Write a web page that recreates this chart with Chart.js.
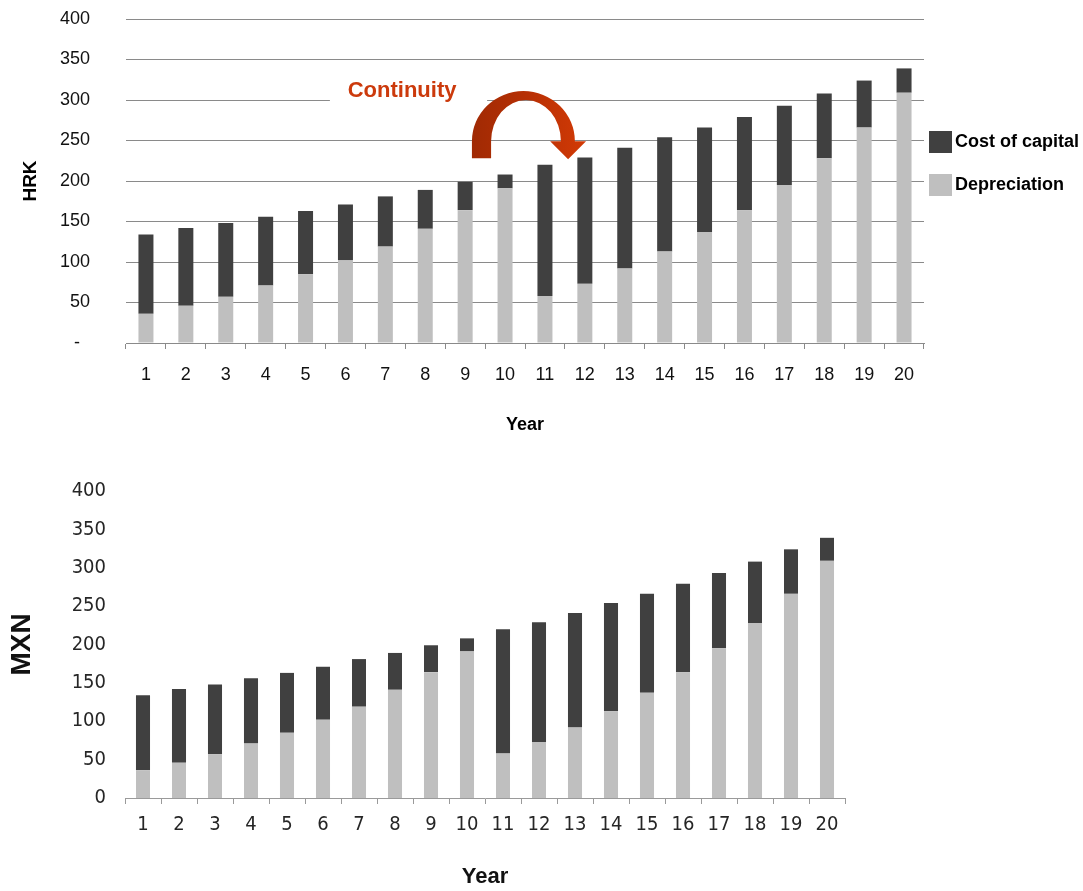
<!DOCTYPE html>
<html>
<head>
<meta charset="utf-8">
<script src="https://cdn.jsdelivr.net/npm/chart.js@4.4.1/dist/chart.umd.min.js"></script>
<style>
  html, body { margin: 0; padding: 0; background: #ffffff; }
  #wrap { position: relative; width: 1083px; height: 891px; overflow: hidden; background: #ffffff; }
  #hrk { position: absolute; left: 0; top: 0; }
  #mxn { position: absolute; left: 0; top: 450px; filter: blur(0.4px); }
</style>
</head>
<body>
<div id="wrap">
  <canvas id="hrk" width="1083" height="450"></canvas>
  <canvas id="mxn" width="1083" height="441"></canvas>
</div>
<script>
// Years of the asset's life
const years = ['1','2','3','4','5','6','7','8','9','10','11','12','13','14','15','16','17','18','19','20'];
// Annual depreciation charge
const depreciation = [36, 46, 57, 71, 85, 102, 119, 141, 164, 191, 58, 73, 92, 113, 137, 164, 195, 228, 266, 309];
// Annual cost of capital
const costOfCapital = [98, 96, 91, 85, 78, 69, 62, 48, 35, 17, 162, 156, 149, 141, 129, 115, 98, 80, 58, 30];
// Value axis range
const axisMin = 0;
const axisMax = 400;
const axisStep = 50;

const seriesNames = ['Depreciation', 'Cost of capital'];
const DARK = '#404040';
const LIGHT = '#bfbfbf';
const SANS = 'Liberation Sans, Arial, sans-serif';
const PIXEL_SANS = "'DejaVu Sans Condensed', 'DejaVu Sans', sans-serif";

Chart.defaults.font.family = SANS;
Chart.defaults.color = '#111111';

function datasets(barPct) {
  return [
    { label: seriesNames[0], data: depreciation, backgroundColor: LIGHT, borderWidth: 0,
      barPercentage: barPct, categoryPercentage: 1.0 },
    { label: seriesNames[1], data: costOfCapital, backgroundColor: DARK, borderWidth: 0,
      barPercentage: barPct, categoryPercentage: 1.0 }
  ];
}

// Callout ("Continuity" label and curved arrow), placed in axis units
const callout = {
  text: 'Continuity',
  textAt: { index: 6.42, value: 311 },
  clearBox: { fromIndex: 4.61, toIndex: 8.55, low: 297, high: 324 },
  arrow: {
    outerLeft: 8.17, outerRight: 10.75,
    innerLeft: 8.65, innerRight: 10.40,
    headLeft: 10.13, headRight: 11.03, tipIndex: 10.58,
    base: 249, outerTop: 311, innerTop: 300, legBottom: 228, tip: 227
  }
};

const calloutPlugin = {
  id: 'callout',
  afterDraw(chart) {
    const ctx = chart.ctx;
    const xs = chart.scales.x, ys = chart.scales.y;
    const X = i => xs.getPixelForValue(i);
    const Y = v => ys.getPixelForValue(v);

    // white backing behind the label
    const b = callout.clearBox;
    ctx.save();
    ctx.fillStyle = '#ffffff';
    ctx.fillRect(X(b.fromIndex), Y(b.high), X(b.toIndex) - X(b.fromIndex), Y(b.low) - Y(b.high));

    ctx.font = 'bold 22px ' + SANS;
    ctx.fillStyle = '#cc3a0c';
    ctx.textAlign = 'center';
    ctx.textBaseline = 'middle';
    ctx.fillText(callout.text, X(callout.textAt.index), Y(callout.textAt.value));

    // curved arrow
    const a = callout.arrow;
    const oL = X(a.outerLeft), oR = X(a.outerRight);
    const iL = X(a.innerLeft), iR = X(a.innerRight);
    const base = Y(a.base);
    const ocx = (oL + oR) / 2, orx = (oR - oL) / 2, ory = base - Y(a.outerTop);
    const icx = (iL + iR) / 2, irx = (iR - iL) / 2, iry = base - Y(a.innerTop);
    const grad = ctx.createLinearGradient(oL, 0, X(a.headRight), 0);
    grad.addColorStop(0, '#a02a04');
    grad.addColorStop(0.5, '#b83004');
    grad.addColorStop(1, '#d23a06');
    ctx.beginPath();
    ctx.moveTo(oL, Y(a.legBottom));
    ctx.lineTo(oL, base);
    ctx.ellipse(ocx, base, orx, ory, 0, Math.PI, 2 * Math.PI, false);
    ctx.lineTo(X(a.headRight), base);
    ctx.lineTo(X(a.tipIndex), Y(a.tip));
    ctx.lineTo(X(a.headLeft), base);
    ctx.lineTo(iR, base);
    ctx.ellipse(icx, base, irx, iry, 0, 2 * Math.PI, Math.PI, true);
    ctx.lineTo(iL, Y(a.legBottom));
    ctx.closePath();
    ctx.fillStyle = grad;
    ctx.fill();
    ctx.restore();
  }
};

// Legend drawn to the right of the plot area
const sideLegendPlugin = {
  id: 'sideLegend',
  afterDraw(chart) {
    const ctx = chart.ctx;
    const area = chart.chartArea;
    const items = [
      { label: seriesNames[1], color: DARK, top: 112 },
      { label: seriesNames[0], color: LIGHT, top: 155 }
    ];
    ctx.save();
    ctx.font = 'bold 18px ' + SANS;
    ctx.textAlign = 'left';
    ctx.textBaseline = 'middle';
    items.forEach(it => {
      const bx = area.right + 5, by = area.top + it.top;
      ctx.fillStyle = it.color;
      ctx.fillRect(bx, by, 23, 22);
      ctx.fillStyle = '#000000';
      ctx.fillText(it.label, bx + 26, by + 11.5);
    });
    ctx.restore();
  }
};

// Upper chart: HRK
new Chart(document.getElementById('hrk'), {
  type: 'bar',
  data: { labels: years, datasets: datasets(0.376) },
  options: {
    responsive: false,
    devicePixelRatio: 1,
    animation: false,
    events: [],
    layout: { padding: { top: 19, right: 159, left: 0, bottom: 0 } },
    plugins: { legend: { display: false }, tooltip: { enabled: false } },
    scales: {
      x: {
        stacked: true,
        offset: true,
        grid: { offset: true, drawOnChartArea: false, drawTicks: true, tickLength: 6, color: '#8a8a8a', lineWidth: 1 },
        border: { display: true, color: '#8a8a8a', width: 1 },
        ticks: { font: { size: 18 }, color: '#111111', padding: 15, autoSkip: false, maxRotation: 0 },
        title: { display: true, text: 'Year', font: { size: 18, weight: 'bold' }, color: '#000000', padding: { top: 0, bottom: 14 } },
        afterFit(scale) { scale.height = 107; }
      },
      y: {
        stacked: true,
        min: axisMin, max: axisMax,
        grid: { drawTicks: true, tickLength: 30, tickColor: 'rgba(0,0,0,0)', color: '#8a8a8a', lineWidth: 1 },
        border: { display: false },
        ticks: {
          stepSize: axisStep, font: { size: 18 }, color: '#111111', padding: 6,
          callback: v => (v === 0 ? '-  ' : String(v))
        },
        title: { display: true, text: 'HRK', font: { size: 19, weight: 'bold' }, color: '#000000', padding: { top: 19, bottom: 0 } },
        afterFit(scale) { scale.width = 126; }
      }
    }
  },
  plugins: [calloutPlugin, sideLegendPlugin]
});

// Lower chart: MXN
new Chart(document.getElementById('mxn'), {
  type: 'bar',
  data: { labels: years, datasets: datasets(0.39) },
  options: {
    responsive: false,
    devicePixelRatio: 1,
    animation: false,
    events: [],
    layout: { padding: { top: 41, right: 238, left: 0, bottom: 0 } },
    plugins: { legend: { display: false }, tooltip: { enabled: false } },
    scales: {
      x: {
        stacked: true,
        offset: true,
        grid: { offset: true, drawOnChartArea: false, drawTicks: true, tickLength: 6, color: '#9a9a9a', lineWidth: 1 },
        border: { display: true, color: '#9a9a9a', width: 1 },
        ticks: { font: { family: PIXEL_SANS, size: 20 }, color: '#262626', padding: 9, autoSkip: false, maxRotation: 0 },
        title: { display: true, text: 'Year', font: { size: 22, weight: 'bold' }, color: '#111111', padding: { top: 0, bottom: 1 } },
        afterFit(scale) { scale.height = 93; }
      },
      y: {
        stacked: true,
        min: axisMin, max: axisMax,
        grid: { display: false, drawTicks: false },
        border: { display: false },
        ticks: { stepSize: axisStep, font: { family: PIXEL_SANS, size: 20 }, color: '#262626', padding: 19 },
        title: { display: true, text: 'MXN', font: { size: 28, weight: 'bold' }, color: '#111111', padding: { top: 5, bottom: 0 } },
        afterFit(scale) { scale.width = 125; }
      }
    }
  }
});
</script>
</body>
</html>
